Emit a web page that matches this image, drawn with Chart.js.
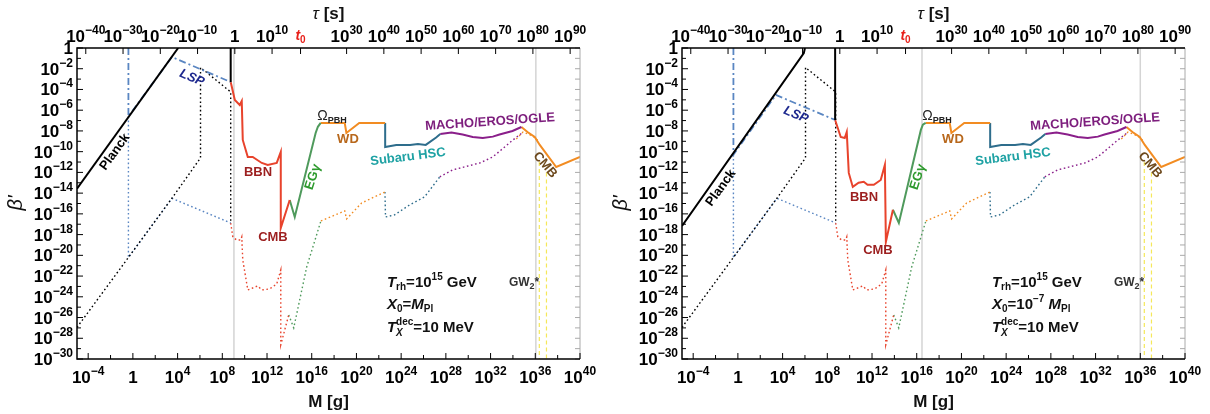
<!DOCTYPE html>
<html>
<head>
<meta charset="utf-8">
<script src="https://cdn.jsdelivr.net/npm/chart.js@4.4.0/dist/chart.umd.min.js"></script>
<style>
body { margin: 0; background: #fff; width: 1210px; height: 414px; overflow: hidden; }
.panel { position: absolute; top: 0; width: 605px; height: 414px; }
</style>
</head>
<body>
<div class="panel" style="left:0"><canvas id="left" width="605" height="414"></canvas></div>
<div class="panel" style="left:605px"><canvas id="right" width="605" height="414"></canvas></div>
<script>
/*
==================================
    Data  (points are [log10 M/g, log10 beta'])
==================================
*/
var mTicks = [-4, 0, 4, 8, 12, 16, 20, 24, 28, 32, 36, 40];
var betaTicks = [0, -2, -4, -6, -8, -10, -12, -14, -16, -18, -20, -22, -24, -26, -28, -30];
var tauTicks = [-40, -30, -20, -10, 0, 10, 30, 40, 50, 60, 70, 80, 90];
var t0 = 4.35e17;          // age of the universe [s]
var tauCoef = 4.4e-28;     // tau = tauCoef * M^3

// left panel (X0 = M_Pl)
var planckL = [[-5, -13.58], [4.05, 0]];
var wallL = [[8.75, 0], [8.75, -3.28]];
var lspL = [[-0.4, 0], [-0.4, -6.6], [3.49, -0.87], [8.75, -3.28]];
var lspDotL = [[-0.4, -6.6], [-0.4, -20.2], [3.49, -14.5], [8.75, -16.88]];
var redL = [[8.75, -3.28], [9.12, -5.01], [9.56, -5.5], [9.74, -5.11], [9.83, -8.87], [10.28, -10.51], [10.72, -10.51],
            [11.53, -11.09], [12.06, -11.28], [12.87, -11.09], [13.23, -10.03], [13.23, -17.36], [14.03, -14.66]];
var greenL = [[14.03, -14.66], [14.48, -16.3], [16.35, -8.2], [16.55, -7.6], [16.8, -7.23]];
var grayL = [9.04, 36.05];

// right panel (X0 = 1e-7 M_Pl)
var planckR = [[-5, -17.16], [5.9, -0.5], [6.0, 0]];
var wallR = [[8.7, 0], [8.7, -6.94]];
var lspR = [[-0.4, 0], [-0.4, -10.3], [3.4, -4.53], [8.7, -6.94]];
var lspDotR = [[-0.4, -10.3], [-0.4, -20.2], [3.49, -14.5], [8.75, -16.88]];
var redR = [[8.7, -6.94], [9.2, -8.58], [9.56, -8.68], [9.74, -8.1], [9.92, -12.05], [10.28, -13.4], [10.8, -13.0],
            [11.26, -12.9], [11.6, -13.2], [12.16, -13.2], [12.78, -12.73], [13.15, -11.28], [13.24, -18.7], [13.87, -15.6]];
var greenR = [[13.87, -15.6], [14.4, -16.88], [16.37, -7.9], [16.55, -7.4], [16.8, -7.23]];
var grayR = [16.47, 36.0];

// shared by both panels
var omegaWD = [[16.8, -7.23], [18.95, -7.23], [19.1, -8.2], [20.25, -7.23], [22.57, -7.23]];
var subaru = [[22.57, -7.23], [22.57, -9.55], [23.56, -9.35], [24.8, -9.35], [25.5, -9.26], [26.2, -9.35], [27.13, -8.63], [27.5, -8.29]];
var macho = [[27.5, -8.29], [28.5, -8.15], [29.5, -8.35], [30.4, -8.58], [31.3, -8.68], [32.2, -8.55], [32.8, -8.35], [33.96, -8.0], [34.76, -7.62]];
var cmbHigh = [[34.76, -7.62], [35.3, -8.1], [35.95, -8.58], [36.4, -9.35], [37.87, -11.48], [40, -10.5]];

var blackDot = [[-5, -26.95], [3.49, -14.5], [6.05, -10.6], [6.05, -1.88], [8.75, -4.24], [8.75, -16.88]];
var redDot = [[8.75, -16.88], [8.94, -18.23], [9.29, -18.52], [9.65, -18.52], [9.74, -18.23], [9.83, -20.44], [10.28, -23.34],
              [11.17, -22.95], [11.53, -23.34], [12.24, -23.24], [12.87, -22.76], [13.23, -21.41], [13.23, -28.64], [13.94, -25.75]];
var greenDot = [[13.94, -25.75], [14.39, -27.0], [15.55, -21.12], [16.82, -16.68]];
var omegaDot = [[16.82, -16.68], [18.95, -15.72], [19.12, -16.49], [20.46, -14.95], [22.55, -13.89]];
var subaruDot = [[22.55, -13.89], [22.6, -16.3], [23.41, -16.1], [24.75, -15.14], [26.09, -14.37], [27.45, -12.44]];
var machoDot = [[27.45, -12.44], [28.62, -11.76], [31.03, -11.09], [32.2, -10.51], [34.0, -8.87], [34.8, -8.2]];
var cmbDot = [[34.3, -8.78], [34.9, -8.1], [35.8, -8.5], [36.3, -9.0]];
var gwLines = [36.36, 37.0];

/*
==================================
    Helpers
==================================
*/
var FONT = '"Liberation Sans", Arial, sans-serif';
function fnt(style, size) { return style + ' ' + size + 'px ' + FONT; }

function toXY(pts) {
    return pts.map(function(p) { return { x: Math.pow(10, p[0]), y: Math.pow(10, p[1]) }; });
}
function line(pts, color, width, dash) {
    return {
        data: toXY(pts), borderColor: color, backgroundColor: color, borderWidth: width,
        borderDash: dash || [], pointRadius: 0, showLine: true, tension: 0, fill: false
    };
}
function vline(x, y0, y1, color, width, dash) {
    return line([[x, y0], [x, y1]], color, width, dash);
}

function rich(ctx, parts, x, y, align, color) {
    var w = 0;
    parts.forEach(function(p) { ctx.font = p.f; p.w = ctx.measureText(p.t).width; if (!p.stay) w += p.w; });
    var cx = align === 'center' ? x - w / 2 : (align === 'right' ? x - w : x);
    ctx.textAlign = 'left';
    ctx.textBaseline = 'alphabetic';
    parts.forEach(function(p) {
        ctx.font = p.f;
        ctx.fillStyle = p.c || color;
        ctx.fillText(p.t, cx, y + (p.dy || 0));
        if (!p.stay) cx += p.w;
    });
}
function pow(e) {
    if (e === 0) return [{ t: '1', f: fnt('bold', 17) }];
    return [{ t: '10', f: fnt('bold', 17) }, { t: (e < 0 ? '\u2212' : '') + Math.abs(e), f: fnt('bold', 12), dy: -8 }];
}

var RED = '#e8432c', GREEN = '#4f9a5c', ORANGE = '#f28c22', TEAL = '#2e6d8c', PURPLE = '#8a1f8a', LSPC = '#5a86c2';
var DOT = [1.6, 2.6];

/*
==================================
    Frame, ticks and labels
==================================
*/
function makeFrame(d) {
    return {
        id: 'frame',
        afterDraw: function(chart) {
            var ctx = chart.ctx, a = chart.chartArea;
            var sx = chart.scales.x, sy = chart.scales.y, st = chart.scales.xt;
            function X(e) { return sx.getPixelForValue(Math.pow(10, e)); }
            function Y(e) { return sy.getPixelForValue(Math.pow(10, e)); }
            ctx.save();

            // curve labels
            d.labels.forEach(function(l) {
                ctx.save();
                ctx.translate(X(l.x), Y(l.y));
                ctx.rotate((l.rot || 0) * Math.PI / 180);
                ctx.fillStyle = l.c;
                ctx.font = l.f;
                ctx.textAlign = 'center';
                ctx.textBaseline = 'middle';
                ctx.fillText(l.t, 0, 0);
                ctx.restore();
            });
            rich(ctx, [{ t: '\u03A9', f: fnt('normal', 14) }, { t: 'PBH', f: fnt('bold', 9), dy: 3 }], X(17.81), Y(-6.94), 'center', '#222');
            rich(ctx, [{ t: 'GW', f: fnt('bold', 12) }, { t: '2', f: fnt('bold', 9), dy: 3 }, { t: '*', f: fnt('bold', 12) }], X(35.0), Y(-22.95), 'center', '#333');
            d.info.forEach(function(parts, i) {
                rich(ctx, parts, X(22.73), Y([-23.05, -25.17, -27.39][i]), 'left', '#111');
            });

            // frame
            ctx.lineWidth = 1;
            ctx.strokeStyle = '#aaa';
            ctx.beginPath();
            ctx.moveTo(a.right, a.top); ctx.lineTo(a.right, a.bottom);
            for (var r = 0; r >= -30; r--) {
                ctx.moveTo(a.right, Y(r)); ctx.lineTo(a.right - 5, Y(r));
            }
            ctx.stroke();

            ctx.strokeStyle = '#000';
            ctx.lineWidth = 1.5;
            ctx.beginPath();
            ctx.moveTo(a.right, a.top); ctx.lineTo(a.left, a.top); ctx.lineTo(a.left, a.bottom); ctx.lineTo(a.right, a.bottom);
            ctx.stroke();

            ctx.lineWidth = 1;
            ctx.beginPath();
            for (var e = -4; e <= 40; e += 2) {
                ctx.moveTo(X(e), a.bottom); ctx.lineTo(X(e), a.bottom - (e % 4 === 0 ? 6 : 4));
            }
            for (var b = 0; b >= -30; b--) {
                ctx.moveTo(a.left, Y(b)); ctx.lineTo(a.left + (b % 2 === 0 ? 6 : 4), Y(b));
            }
            tauTicks.forEach(function(e) {
                var x = st.getPixelForValue(Math.pow(10, e));
                ctx.moveTo(x, a.top); ctx.lineTo(x, a.top + 6);
            });
            var xt0 = st.getPixelForValue(t0);
            ctx.moveTo(xt0, a.top); ctx.lineTo(xt0, a.top + 6);
            ctx.stroke();

            // tick labels
            mTicks.forEach(function(e) { rich(ctx, pow(e), X(e), 383, 'center', '#000'); });
            betaTicks.forEach(function(e) { rich(ctx, pow(e), a.left - 4, Y(e) + 6, 'right', '#000'); });
            tauTicks.forEach(function(e) { rich(ctx, pow(e), st.getPixelForValue(Math.pow(10, e)), 42, 'center', '#000'); });
            rich(ctx, [{ t: 't', f: fnt('italic bold', 14) }, { t: '0', f: fnt('bold', 10), dy: 3 }], xt0, 40, 'center', '#e8201a');

            // axis titles
            var mid = (a.left + a.right) / 2;
            rich(ctx, [{ t: '\u03C4', f: fnt('italic', 17) }, { t: ' [s]', f: fnt('bold', 17) }], mid, 19, 'center', '#111');
            rich(ctx, [{ t: 'M [g]', f: fnt('bold', 17) }], mid, 407, 'center', '#111');
            ctx.save();
            ctx.translate(22, 203);
            ctx.rotate(-Math.PI / 2);
            rich(ctx, [{ t: '\u03B2\'', f: fnt('italic', 20) }], 0, 0, 'center', '#111');
            ctx.restore();

            ctx.restore();
        }
    };
}

function panel(id, d) {
    var ds = [
        line(d.planck, '#000', 2),
        line(d.wall, '#000', 2),
        line(d.lsp, LSPC, 1.8, [7, 3, 2, 3]),
        line(d.red, RED, 2),
        line(d.green, GREEN, 2),
        line(omegaWD, ORANGE, 2),
        line(subaru, TEAL, 2),
        line(macho, PURPLE, 2),
        line(cmbHigh, ORANGE, 2),
        line(blackDot, '#000', 1.4, DOT),
        line(d.lspDot, LSPC, 1.4, DOT),
        line(redDot, RED, 1.4, DOT),
        line(greenDot, GREEN, 1.4, DOT),
        line(omegaDot, ORANGE, 1.4, DOT),
        line(subaruDot, TEAL, 1.4, DOT),
        line(machoDot, PURPLE, 1.4, DOT),
        line(cmbDot, ORANGE, 1.4, DOT),
        vline(gwLines[0], -11.0, -30, '#f5e85a', 1.2, [4, 3]),
        vline(gwLines[1], -12.0, -30, '#f5e85a', 1.2, [4, 3]),
        vline(d.gray[0], 0, -30, '#d4d4d4', 1.5),
        vline(d.gray[1], 0, -30, '#d4d4d4', 1.5)
    ];
    var lg = function() { return { type: 'logarithmic', display: true, bounds: 'data', grid: { display: false }, border: { display: false }, ticks: { display: false } }; };
    var x = lg(); x.position = 'bottom'; x.min = 1e-5; x.max = 1e40; x.afterFit = function(s) { s.height = 55; };
    var xt = lg(); xt.position = 'top'; xt.min = tauCoef * Math.pow(1e-5, 3); xt.max = tauCoef * Math.pow(1e40, 3);
    xt.afterFit = function(s) { s.height = 48; };
    var y = lg(); y.position = 'left'; y.min = 1e-30; y.max = 1; y.afterFit = function(s) { s.width = 77; };

    new Chart(document.getElementById(id), {
        type: 'scatter',
        data: { datasets: ds },
        options: {
            responsive: false,
            animation: false,
            events: [],
            layout: { padding: { left: 0, right: 25, top: 0, bottom: 0 } },
            plugins: { legend: { display: false }, tooltip: { enabled: false } },
            scales: { x: x, xt: xt, y: y }
        },
        plugins: [makeFrame(d)]
    });
}

function labels(planck, lsp, bbn, cmb) {
    var B13 = fnt('bold', 13);
    return [
        { t: 'Planck', x: planck[0], y: planck[1], rot: -54, c: '#000', f: B13 },
        { t: 'LSP', x: lsp[0], y: lsp[1], rot: 23, c: '#1f2a8f', f: fnt('italic bold', 13) },
        { t: 'BBN', x: bbn[0], y: bbn[1], c: '#9c1f1f', f: B13 },
        { t: 'CMB', x: cmb[0], y: cmb[1], c: '#9c1f1f', f: B13 },
        { t: 'EG\u03B3', x: 16.11, y: -12.44, rot: -72, c: '#2e9a2e', f: B13 },
        { t: 'WD', x: 19.24, y: -8.78, c: '#b8681c', f: B13 },
        { t: 'Subaru HSC', x: 24.61, y: -10.51, rot: -7, c: '#1fa2a4', f: B13 },
        { t: 'MACHO/EROS/OGLE', x: 31.95, y: -7.14, rot: -4, c: '#7d1e7d', f: B13 },
        { t: 'CMB', x: 36.87, y: -11.28, rot: 50, c: '#6e4a1e', f: B13 }
    ];
}

var B15 = fnt('bold', 15), I15 = fnt('italic bold', 15), S10 = fnt('bold', 10), SI10 = fnt('italic bold', 10);
var trh = [{ t: 'T', f: I15 }, { t: 'rh', f: S10, dy: 3 }, { t: '=10', f: B15 }, { t: '15', f: S10, dy: -7 }, { t: ' GeV', f: B15 }];
var tdec = [{ t: 'T', f: I15 }, { t: 'X', f: SI10, dy: 4, stay: true }, { t: 'dec', f: S10, dy: -7 }, { t: '=10 MeV', f: B15 }];

panel('left', {
    planck: planckL, wall: wallL, lsp: lspL, lspDot: lspDotL, red: redL, green: greenL, gray: grayL,
    labels: labels([-1.61, -10.03], [5.28, -2.89], [11.19, -12.05], [12.53, -18.32]),
    info: [trh, [{ t: 'X', f: I15 }, { t: '0', f: S10, dy: 3 }, { t: '=', f: B15 }, { t: 'M', f: I15 }, { t: 'Pl', f: S10, dy: 3 }], tdec]
});
panel('right', {
    planck: planckR, wall: wallR, lsp: lspR, lspDot: lspDotR, red: redR, green: greenR, gray: grayR,
    labels: labels([-1.52, -13.5], [5.19, -6.46], [11.28, -14.37], [12.53, -19.48]),
    info: [trh, [{ t: 'X', f: I15 }, { t: '0', f: S10, dy: 3 }, { t: '=10', f: B15 }, { t: '\u22127', f: S10, dy: -7 }, { t: ' ', f: B15 },
                 { t: 'M', f: I15 }, { t: 'Pl', f: S10, dy: 3 }], tdec]
});
</script>
</body>
</html>
